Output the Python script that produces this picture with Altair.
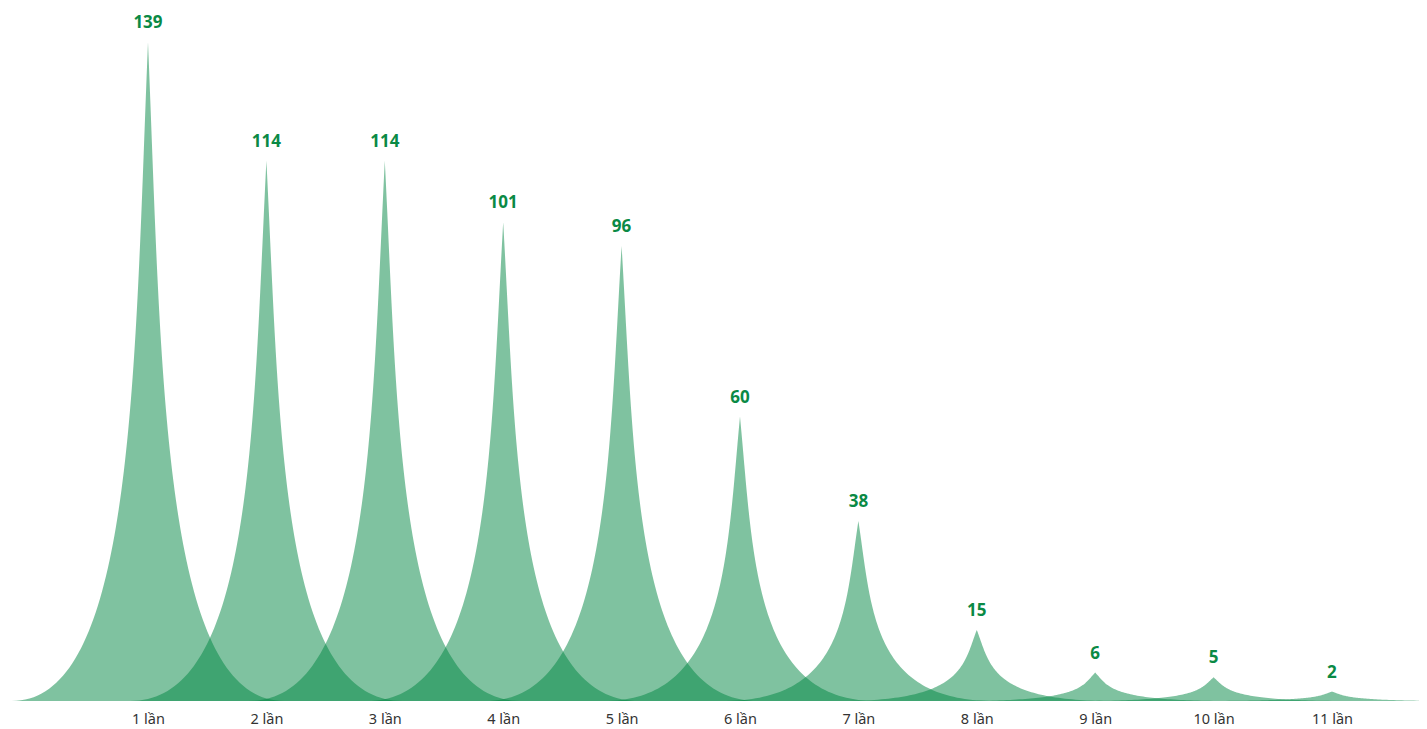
import json
import altair as alt
import pandas as pd
import numpy as np

# ---- data ----
categories = ["1 lần", "2 lần", "3 lần", "4 lần", "5 lần", "6 lần",
              "7 lần", "8 lần", "9 lần", "10 lần", "11 lần"]
values = [139, 114, 114, 101, 96, 60, 38, 15, 6, 5, 2]

COLOR = "#008542"
HALF = 1.15  # half width of a spike symbol, in category units (barCategoryGap -130%)

# spike symbol: path M0,10 L10,10 C5.5,10 5.5,5 5,0 C4.5,5 4.5,10 0,10 z
def bez(p0, p1, p2, p3, t):
    return ((1 - t) ** 3) * p0 + 3 * ((1 - t) ** 2) * t * p1 + 3 * (1 - t) * t * t * p2 + (t ** 3) * p3

ts = np.linspace(0, 1, 80)
sx = bez(10, 5.5, 5.5, 5, ts)
sy = bez(10, 10, 5, 0, ts)
right = [((x - 5) / 5, (10 - y) / 10) for x, y in zip(sx, sy)]
left = [(-dx, f) for dx, f in right]
shape = sorted(set(left + right))

rows = []
for i, (cat, v) in enumerate(zip(categories, values)):
    for dx, f in shape:
        rows.append({"cat": cat, "px": float(i + 1 + dx * HALF), "py": float(v * f)})
spikes = pd.DataFrame(rows)

labels = pd.DataFrame({"cat": categories, "idx": list(range(1, len(categories) + 1)), "v": values})

label_expr = json.dumps(categories, ensure_ascii=False) + "[datum.value - 1]"

xscale = alt.Scale(domain=[-0.1824, 11.735], nice=False, zero=False)
yscale = alt.Scale(domain=[0, 146.2], nice=False)

area = alt.Chart(spikes).mark_area(color=COLOR, opacity=0.5, clip=True).encode(
    x=alt.X("px:Q", scale=xscale,
            axis=alt.Axis(values=list(range(1, len(categories) + 1)), labelExpr=label_expr,
                          title=None, grid=False, domain=False, ticks=False,
                          labelFontSize=14.5, labelColor="#333333", labelFont="Noto Sans",
                          labelPadding=11)),
    y=alt.Y("py:Q", scale=yscale, axis=None, stack=None),
    detail="cat:N",
)

text = alt.Chart(labels).mark_text(
    color="#0a8a45", fontWeight="bold", fontSize=17, font="Noto Sans",
    baseline="bottom", dy=-10
).encode(
    x=alt.X("idx:Q", scale=xscale),
    y=alt.Y("v:Q", scale=yscale),
    text="v:Q",
)

chart = alt.layer(area, text).properties(
    width=1411, height=693,
    autosize=alt.AutoSizeParams(type="none"),
    padding={"left": 0, "top": 0, "right": 0, "bottom": 26},
    view=alt.ViewBackground(stroke="transparent", strokeWidth=0),
).configure_view(stroke="transparent", strokeWidth=0).configure(background="white")

chart.save("out.html", embed_options={"renderer": "svg", "actions": False})
